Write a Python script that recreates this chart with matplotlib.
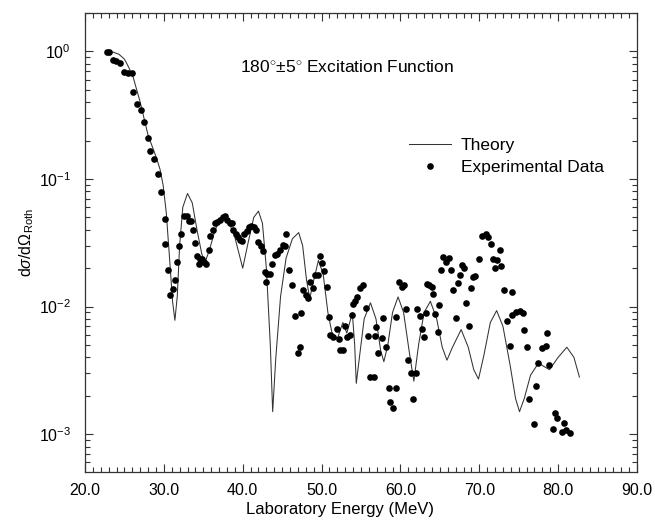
import matplotlib
matplotlib.use("Agg")
import matplotlib.pyplot as plt
from matplotlib.ticker import MultipleLocator, FormatStrFormatter, LogLocator, NullFormatter
from matplotlib.legend_handler import HandlerLine2D
import numpy as np

plt.rcParams['font.family'] = ['Liberation Sans', 'DejaVu Sans']
plt.rcParams['mathtext.fontset'] = 'custom'
plt.rcParams['mathtext.rm'] = 'Liberation Sans'
plt.rcParams['mathtext.it'] = 'Liberation Sans:italic'
plt.rcParams['mathtext.sf'] = 'Liberation Sans'

# Theory curve (energy MeV, dsigma/dOmega_Ruth)
theory_E = [22.8, 23.5, 24.3, 25.0, 25.5, 26.1, 27.0, 28.0, 29.0, 29.5, 29.9, 30.3, 30.7, 31.1, 31.4, 31.7,
            32.0, 32.4, 33.0, 33.6, 34.2, 34.8, 35.2, 35.8, 36.5, 37.3, 38.0, 39.0, 40.0, 40.7, 41.4,
            42.0, 42.5, 43.0, 43.5, 43.8, 44.2, 44.8, 45.5, 46.3, 47.1, 47.6, 48.1, 48.5, 49.0, 49.6,
            50.2, 50.8, 51.3, 52.0, 52.7, 53.2, 53.9, 54.2, 54.4, 54.8, 55.4, 56.2, 56.9, 57.5, 57.9,
            58.4, 59.0, 59.7, 60.4, 61.1, 61.7, 62.3, 63.0, 63.8, 64.6, 65.3, 65.9, 66.6, 67.7, 68.6,
            69.3, 69.9, 70.6, 71.4, 72.2, 73.0, 73.9, 74.6, 75.1, 75.7, 76.5, 77.5, 78.9, 80.0, 81.1,
            82.0, 82.7]
theory_S = [1.0, 0.99, 0.95, 0.87, 0.76, 0.63, 0.40, 0.22, 0.15, 0.12, 0.09, 0.055, 0.025, 0.011, 0.0078, 0.012,
            0.03, 0.06, 0.077, 0.065, 0.04, 0.026, 0.022, 0.028, 0.04, 0.05, 0.05, 0.035, 0.020, 0.032, 0.05,
            0.056, 0.045, 0.02, 0.005, 0.0015, 0.004, 0.012, 0.024, 0.034, 0.038, 0.03, 0.016, 0.0116, 0.016, 0.023,
            0.018, 0.009, 0.0063, 0.0056, 0.0075, 0.0062, 0.0089, 0.005, 0.0025, 0.004, 0.008, 0.0107, 0.008, 0.0045, 0.0037,
            0.005, 0.009, 0.0119, 0.009, 0.0045, 0.0026, 0.005, 0.009, 0.011, 0.008, 0.0048, 0.0038, 0.0048, 0.0066, 0.0048,
            0.0032, 0.0027, 0.0042, 0.0075, 0.0093, 0.007, 0.0035, 0.0019, 0.0015, 0.0019, 0.0029, 0.0036, 0.0032, 0.0040, 0.0048,
            0.0040, 0.0028]

# Experimental data
exp_E = [22.75, 23.1, 23.5, 23.9, 24.4, 24.9, 25.4, 25.9, 26.1, 26.55, 27.1, 27.5, 27.95, 28.3, 28.7, 29.2, 29.7,
         30.1, 30.2, 30.5, 31.4, 31.1, 30.8, 31.7, 31.9, 32.2, 32.55, 32.9, 33.2, 33.5, 33.7, 33.9, 34.2,
         34.6, 34.9, 34.5, 35.1, 35.4, 35.7, 35.9, 36.2, 36.5, 36.8, 37.1, 37.5, 37.75, 37.97, 38.4, 38.7,
         38.8, 39.1, 39.4, 39.7, 39.95, 40.2, 40.5, 40.8, 41.1, 41.4, 41.7, 42.0, 42.3, 42.55, 42.8, 43.1,
         43.45, 42.95, 43.7, 44.1, 44.4, 44.7, 45.1, 45.4, 45.5, 45.9,
         46.3, 46.6, 47.4, 47.3, 47.05, 47.7, 48.0, 48.3, 48.5, 48.95, 49.2, 49.5, 49.8, 50.0, 50.35, 50.65,
         50.9, 51.1, 51.4, 51.9, 52.25, 52.3, 52.7, 53.0, 53.2, 53.6, 53.8, 54.0, 54.3, 54.5, 54.9, 55.2,
         55.6, 55.9, 56.2, 56.6, 56.8, 56.9, 57.2, 57.6, 57.8, 58.2, 58.5, 59.4, 58.7, 59.1, 59.5, 59.8,
         60.15, 60.45, 60.7, 61.0, 61.3, 62.0, 61.6, 62.05, 62.5, 62.7, 63.0, 63.2, 63.4, 63.65, 63.95, 64.1,
         64.4, 64.8, 64.9, 65.2, 65.4, 65.8, 66.1, 66.4, 66.7, 67.0, 67.25, 67.5, 67.8, 68.1, 68.3, 68.7,
         68.9, 69.15, 69.45, 70.0, 70.4, 70.8, 71.1, 71.45, 71.8, 72.2, 72.0, 72.6, 72.8, 73.1, 74.2, 73.55,
         74.1, 74.65, 75.2, 75.5, 73.9, 75.7, 76.1, 76.35, 76.9, 77.2, 77.5, 77.9, 78.5, 78.6, 78.9, 79.4,
         79.6, 79.9, 80.45, 80.7, 81.0, 81.5]
exp_S = [0.99, 0.99, 0.86, 0.84, 0.81, 0.69, 0.68, 0.68, 0.48, 0.39, 0.35, 0.28, 0.21, 0.166, 0.144, 0.109, 0.079,
         0.049, 0.031, 0.0195, 0.0161, 0.0137, 0.0124, 0.0224, 0.030, 0.037, 0.051, 0.051, 0.047, 0.047, 0.040, 0.0316, 0.0248,
         0.0234, 0.0234, 0.0215, 0.0224, 0.0215, 0.0277, 0.0355, 0.0395, 0.045, 0.046, 0.048, 0.050, 0.051, 0.0475, 0.045, 0.045,
         0.040, 0.037, 0.035, 0.0335, 0.0327, 0.037, 0.039, 0.042, 0.043, 0.042, 0.040, 0.032, 0.0297, 0.0273, 0.0187, 0.018,
         0.018, 0.0156, 0.0217, 0.0253, 0.0257, 0.028, 0.0303, 0.0297, 0.0373, 0.0193,
         0.0147, 0.0084, 0.0089, 0.0048, 0.0043, 0.0136, 0.0123, 0.0116, 0.0156, 0.0139, 0.0176, 0.0178, 0.0248, 0.022, 0.019, 0.0143,
         0.0083, 0.006, 0.0058, 0.0067, 0.0056, 0.0046, 0.0046, 0.0071, 0.0058, 0.006, 0.0086, 0.0104, 0.011, 0.0118, 0.0141, 0.0147,
         0.0097, 0.0059, 0.0028, 0.0028, 0.0059, 0.0069, 0.0043, 0.0057, 0.0082, 0.0048, 0.0023, 0.0023, 0.0018, 0.0016, 0.0083, 0.0156,
         0.0143, 0.0147, 0.0095, 0.0038, 0.003, 0.003, 0.0019, 0.0095, 0.0084, 0.0067, 0.0058, 0.0089, 0.0151, 0.0147, 0.0143, 0.0125,
         0.0088, 0.0063, 0.0102, 0.0195, 0.0245, 0.0224, 0.0242, 0.0195, 0.0134, 0.0082, 0.0152, 0.0176, 0.0211, 0.0202, 0.0106, 0.0071,
         0.0141, 0.0169, 0.0173, 0.0234, 0.0356, 0.0369, 0.0351, 0.031, 0.0238, 0.023, 0.0199, 0.028, 0.0207, 0.0134, 0.013, 0.0077,
         0.0086, 0.0091, 0.0092, 0.0089, 0.0049, 0.0066, 0.0048, 0.0019, 0.0012, 0.0024, 0.0036, 0.0047, 0.0049, 0.0062, 0.0035, 0.0011,
         0.00146, 0.00133, 0.00104, 0.00123, 0.00107, 0.00103]

x_ticks = [20, 30, 40, 50, 60, 70, 80, 90]


class HandlerRightMarker(HandlerLine2D):
    def get_xdata(self, legend, xdescent, ydescent, width, height, fontsize):
        xdata = [-xdescent, -xdescent + width]
        return xdata, [-xdescent + width - 0.2 * fontsize]


fig = plt.figure(figsize=(6.55, 5.21), dpi=100)
ax = fig.add_axes([85 / 655, 1 - 472 / 521, (637 - 85) / 655, (472 - 13) / 521])

th, = ax.plot(theory_E, theory_S, color='#333333', lw=0.75, label='Theory')
ex, = ax.plot(exp_E, exp_S, linestyle='none', marker='o', markersize=4.8, color='black',
              markeredgewidth=0, label='Experimental Data')

ax.set_yscale('log')
ax.set_xlim(20, 90)
ax.set_ylim(5.05e-4, 2.0)
ax.set_xticks(x_ticks)
ax.xaxis.set_major_formatter(FormatStrFormatter('%.1f'))
ax.xaxis.set_minor_locator(MultipleLocator(1))
ax.yaxis.set_major_locator(LogLocator(base=10, numticks=10))
ax.yaxis.set_minor_locator(LogLocator(base=10, subs=np.arange(2, 10), numticks=20))
ax.yaxis.set_minor_formatter(NullFormatter())

ax.tick_params(which='both', direction='in', top=True, right=True, labelsize=11.5, width=0.8, color='#333333')
ax.tick_params(which='major', length=6)
ax.tick_params(which='minor', length=3.5)
ax.tick_params(axis='x', pad=8)
ax.tick_params(axis='y', pad=10)
for s in ax.spines.values():
    s.set_linewidth(0.9)
    s.set_color('#333333')

ax.set_xlabel('Laboratory Energy (MeV)', fontsize=12, labelpad=3)
ax.xaxis.label.set_x(0.462)
ax.set_ylabel(r'd$\sigma$/d$\Omega_{\mathrm{Roth}}$', fontsize=11.5, labelpad=2)

fig.text(240 / 655, 1 - 66.7 / 521, r'180$^{\circ}$$\pm$5$^{\circ}$ Excitation Function',
         fontsize=12.5, va='center', ha='left')

leg = ax.legend(handles=[th, ex], loc='upper left', bbox_to_anchor=(0.574, 0.744), frameon=False,
                fontsize=12.5, handlelength=2.45, handletextpad=0.55, labelspacing=0.42, borderaxespad=0,
                handler_map={ex: HandlerRightMarker(numpoints=1)})

fig.savefig('out.png', dpi=100)
